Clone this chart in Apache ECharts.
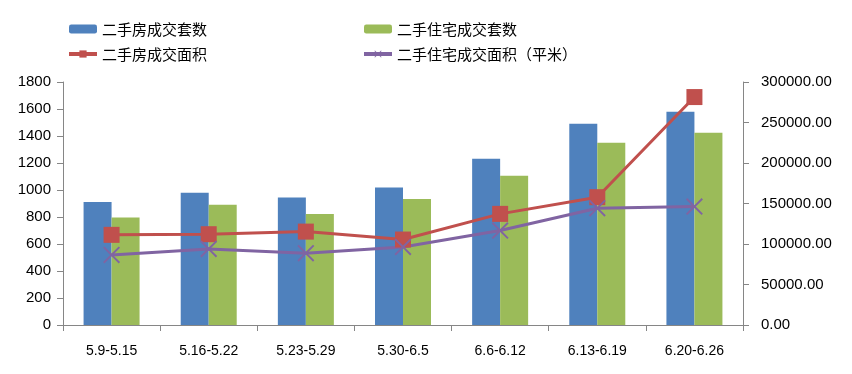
<!DOCTYPE html>
<html><head><meta charset="utf-8">
<script src="https://cdn.jsdelivr.net/npm/echarts@6/dist/echarts.min.js"></script>
<style>html,body{margin:0;padding:0;background:#fff}#c{width:852px;height:374px}</style>
</head><body><div id="c"></div>
<script>
const categories = ['5.9-5.15','5.16-5.22','5.23-5.29','5.30-6.5','6.6-6.12','6.13-6.19','6.20-6.26'];
const houseCount = [912, 979, 944, 1018, 1231, 1491, 1580];
const residenceCount = [796, 890, 823, 934, 1105, 1350, 1424];
const houseArea = [111300, 112100, 115300, 105500, 137200, 157800, 281400];
const residenceArea = [86500, 93900, 88600, 96400, 116600, 144200, 146200];
const seriesNames = ['二手房成交套数','二手住宅成交套数','二手房成交面积','二手住宅成交面积（平米）'];

const font = '"Liberation Sans", "Noto Sans CJK SC", sans-serif';
const axisGrey = '#868686';
const crossPath = 'path://M0,1.6L1.6,0L10,8.4L18.4,0L20,1.6L11.6,10L20,18.4L18.4,20L10,11.6L1.6,20L0,18.4L8.4,10Z';

const chart = echarts.init(document.getElementById('c'));
const legendText = {color:'#000', fontSize:15, fontFamily:'"Noto Sans CJK SC", sans-serif', lineHeight:16};
chart.setOption({
  animation:false,
  textStyle:{fontFamily:font},
  legend:[
    {left:62, top:16, orient:'vertical', itemWidth:28, itemHeight:9, itemGap:9, textStyle:legendText,
     lineStyle:{width:4}, data:[seriesNames[0], seriesNames[2]]},
    {left:357, top:16, orient:'vertical', itemWidth:28, itemHeight:9, itemGap:9, textStyle:legendText,
     lineStyle:{width:4}, data:[seriesNames[1], seriesNames[3]]}
  ],
  grid:{left:63, right:109, top:82, bottom:49},
  xAxis:{type:'category', data:categories,
    axisLine:{lineStyle:{color:axisGrey}},
    axisTick:{show:true, inside:false, length:6, lineStyle:{color:axisGrey}},
    axisLabel:{color:'#000', fontSize:14, margin:19, fontFamily:font}},
  yAxis:[
    {type:'value', min:0, max:1800, interval:200, splitLine:{show:false},
     axisLine:{show:true, lineStyle:{color:axisGrey}},
     axisTick:{show:true, length:6, lineStyle:{color:axisGrey}},
     axisLabel:{color:'#000', fontSize:15, margin:12, fontFamily:font, formatter:v=>String(v)}},
    {type:'value', min:0, max:300000, interval:50000, splitLine:{show:false}, position:'right',
     axisLine:{show:true, lineStyle:{color:axisGrey}},
     axisTick:{show:true, length:6, lineStyle:{color:axisGrey}},
     axisLabel:{color:'#000', fontSize:15, margin:18, fontFamily:font, formatter:v=>v.toFixed(2)}}
  ],
  series:[
    {name:seriesNames[0], type:'bar', data:houseCount, barWidth:28, barGap:'0%', itemStyle:{color:'#4F81BD'}},
    {name:seriesNames[1], type:'bar', data:residenceCount, barWidth:28, barGap:'0%', itemStyle:{color:'#9BBB59'}},
    {name:seriesNames[2], type:'line', yAxisIndex:1, data:houseArea, symbol:'rect', symbolSize:16,
     lineStyle:{color:'#C0504D', width:3}, itemStyle:{color:'#C0504D'}},
    {name:seriesNames[3], type:'line', yAxisIndex:1, data:residenceArea, symbol:crossPath, symbolSize:17,
     lineStyle:{color:'#8064A2', width:3}, itemStyle:{color:'#8064A2'}}
  ]
});
</script></body></html>
